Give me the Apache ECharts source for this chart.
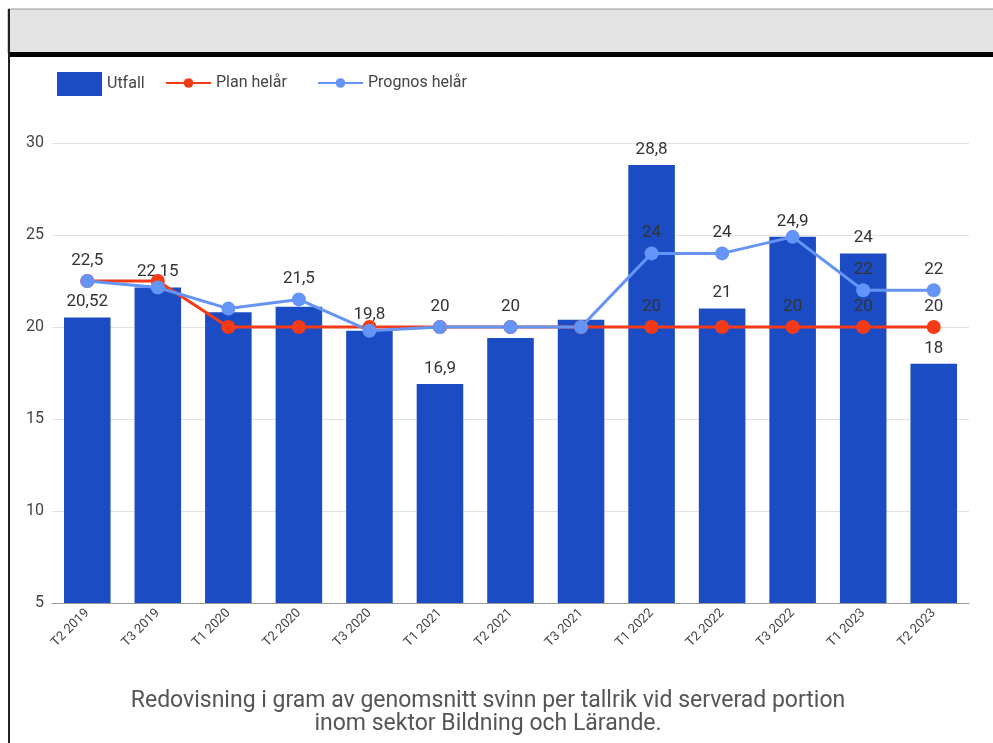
<!DOCTYPE html>
<html>
<head>
<meta charset="utf-8">
<script src="https://cdn.jsdelivr.net/npm/echarts@6/dist/echarts.min.js"></script>
<style>
  html, body { margin: 0; padding: 0; background: #fff; }
  #chart { width: 993px; height: 743px; }
</style>
</head>
<body>
<div id="chart"></div>
<script>
var categories = ['T2 2019', 'T3 2019', 'T1 2020', 'T2 2020', 'T3 2020', 'T1 2021', 'T2 2021',
    'T3 2021', 'T1 2022', 'T2 2022', 'T3 2022', 'T1 2023', 'T2 2023'];
var utfall = [20.52, 22.15, 20.8, 21.1, 19.8, 16.9, 19.4, 20.4, 28.8, 21, 24.9, 24, 18];
var planHelar = [22.5, 22.5, 20, 20, 20, 20, 20, 20, 20, 20, 20, 20, 20];
var prognosHelar = [22.5, 22.15, 21, 21.5, 19.8, 20, 20, 20, 24, 24, 24.9, 22, 22];
// which value labels are visible in the original (the others overlap and are hidden)
var utfallLabelShown = [1, 1, 0, 0, 1, 1, 0, 0, 1, 1, 1, 1, 1];
var planLabelShown = [0, 0, 0, 0, 0, 0, 0, 0, 1, 0, 1, 1, 1];
var prognosLabelShown = [1, 0, 0, 1, 0, 1, 1, 0, 1, 1, 0, 1, 1];
var yTicks = [5, 10, 15, 20, 25, 30];

var chart = echarts.init(document.getElementById('chart'));

function fmt(shown) {
    return function (p) {
        return shown[p.dataIndex] ? String(p.value).replace('.', ',') : '';
    };
}

var labelStyle = {
    show: true,
    position: 'top',
    color: '#333',
    fontSize: 17,
    fontFamily: 'Roboto',
    textBorderWidth: 0
};
var legendText = { fontSize: 16, color: '#444', fontFamily: 'Roboto' };

var option = {
    backgroundColor: '#fff',
    animation: false,
    textStyle: { fontFamily: 'Roboto' },
    title: {
        text: 'Redovisning i gram av genomsnitt svinn per tallrik vid serverad portion\ninom sektor Bildning och Lärande.',
        left: 483,
        textAlign: 'center',
        top: 685,
        textStyle: {
            fontSize: 23,
            fontWeight: 'normal',
            color: '#555',
            fontFamily: 'Roboto',
            lineHeight: 23
        }
    },
    legend: [
        {
            data: [{ name: 'Utfall', icon: 'rect' }],
            left: 52,
            top: 67,
            itemWidth: 45,
            itemHeight: 24,
            textStyle: legendText
        },
        {
            data: ['Plan helår'],
            left: 160,
            top: 70,
            itemWidth: 45,
            itemHeight: 12,
            textStyle: legendText
        },
        {
            data: ['Prognos helår'],
            left: 312,
            top: 70,
            itemWidth: 45,
            itemHeight: 12,
            textStyle: legendText
        }
    ],
    graphic: [
        {
            type: 'rect',
            shape: { x: 8, y: 9, width: 990, height: 44 },
            style: { fill: '#e3e3e3', stroke: '#9a9a9a', lineWidth: 1 },
            silent: true
        },
        {
            type: 'rect',
            shape: { x: 8, y: 52, width: 990, height: 5 },
            style: { fill: '#000' },
            silent: true
        },
        {
            type: 'line',
            shape: { x1: 9, y1: 9, x2: 9, y2: 743 },
            style: { stroke: '#222', lineWidth: 2 },
            silent: true
        }
    ],
    grid: {
        left: 52,
        right: 24,
        top: 143,
        bottom: 140
    },
    xAxis: {
        type: 'category',
        data: categories,
        axisTick: { show: false },
        axisLine: { show: true, lineStyle: { color: '#999', width: 1 } },
        axisLabel: {
            rotate: 45,
            color: '#444',
            fontSize: 13,
            margin: 8,
            interval: 0
        }
    },
    yAxis: {
        type: 'value',
        min: yTicks[0],
        max: yTicks[yTicks.length - 1],
        interval: 5,
        axisLine: { show: false },
        axisTick: { show: false },
        axisLabel: { color: '#444', fontSize: 16, margin: 8 },
        splitLine: { lineStyle: { color: '#e2e2e2', width: 1 } }
    },
    series: [
        {
            name: 'Utfall',
            type: 'bar',
            data: utfall,
            barWidth: '66%',
            itemStyle: { color: '#1c4cc3' },
            label: Object.assign({}, labelStyle, { distance: 7, formatter: fmt(utfallLabelShown) })
        },
        {
            name: 'Plan helår',
            type: 'line',
            data: planHelar,
            symbol: 'circle',
            symbolSize: 14,
            lineStyle: { color: '#f53a17', width: 3 },
            itemStyle: { color: '#f53a17' },
            label: Object.assign({}, labelStyle, { distance: 5, formatter: fmt(planLabelShown) })
        },
        {
            name: 'Prognos helår',
            type: 'line',
            data: prognosHelar,
            symbol: 'circle',
            symbolSize: 14,
            lineStyle: { color: '#6494f5', width: 3 },
            itemStyle: { color: '#6494f5' },
            label: Object.assign({}, labelStyle, { distance: 5, formatter: fmt(prognosLabelShown) })
        }
    ]
};

chart.setOption(option);
</script>
</body>
</html>
